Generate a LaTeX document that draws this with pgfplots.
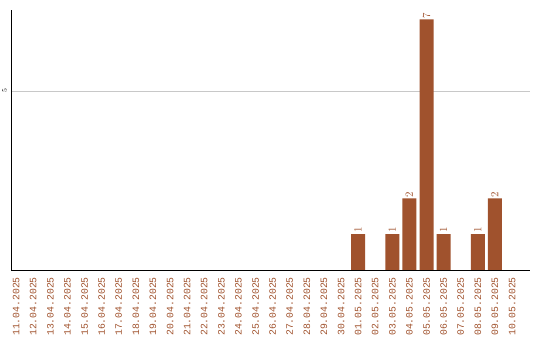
\documentclass[border=0pt]{standalone}
\usepackage{pgfplots}
\pgfplotsset{compat=1.18}
\usepackage{fontspec}
\setmainfont{Liberation Sans}
\newfontfamily\monof{Liberation Mono}
\definecolor{barc}{RGB}{160,82,45}
\definecolor{gridc}{RGB}{200,200,200}
\begin{document}
\begin{tikzpicture}
\useasboundingbox (0,0) rectangle (540bp,340bp);
\begin{axis}[
  at={(11bp,70bp)}, anchor=south west,
  scale only axis, width=519bp, height=260bp,
  xmin=-0.3, xmax=30.05, ymin=0, ymax=7.26,
  axis x line=bottom, axis y line=left,
  axis line style={-, line width=0.8bp, black},
  major tick length=0pt,
  xtick={0,...,29},
  xticklabels={11.04.2025,12.04.2025,13.04.2025,14.04.2025,15.04.2025,16.04.2025,17.04.2025,18.04.2025,19.04.2025,20.04.2025,21.04.2025,22.04.2025,23.04.2025,24.04.2025,25.04.2025,26.04.2025,27.04.2025,28.04.2025,29.04.2025,30.04.2025,01.05.2025,02.05.2025,03.05.2025,04.05.2025,05.05.2025,06.05.2025,07.05.2025,08.05.2025,09.05.2025,10.05.2025},
  xticklabel style={rotate=90, anchor=east, font=\monof\fontsize{9.8}{10}\selectfont, text=barc, inner sep=0pt},
  xticklabel shift=7bp,
  ytick={5},
  yticklabel style={rotate=90, anchor=south, font=\fontsize{7.5}{8}\selectfont, inner sep=0pt},
  yticklabel shift=4bp,
  ymajorgrids, grid style={gridc, line width=0.8bp},
  ybar, bar width=14bp,
  nodes near coords,
  nodes near coords style={rotate=90, anchor=west, font=\monof\fontsize{11}{12}\selectfont, text=barc, inner sep=1bp},
]
\addplot[fill=barc, draw=none] coordinates {(20,1) (22,1) (23,2) (24,7) (25,1) (27,1) (28,2)};
\end{axis}
\end{tikzpicture}
\end{document}
